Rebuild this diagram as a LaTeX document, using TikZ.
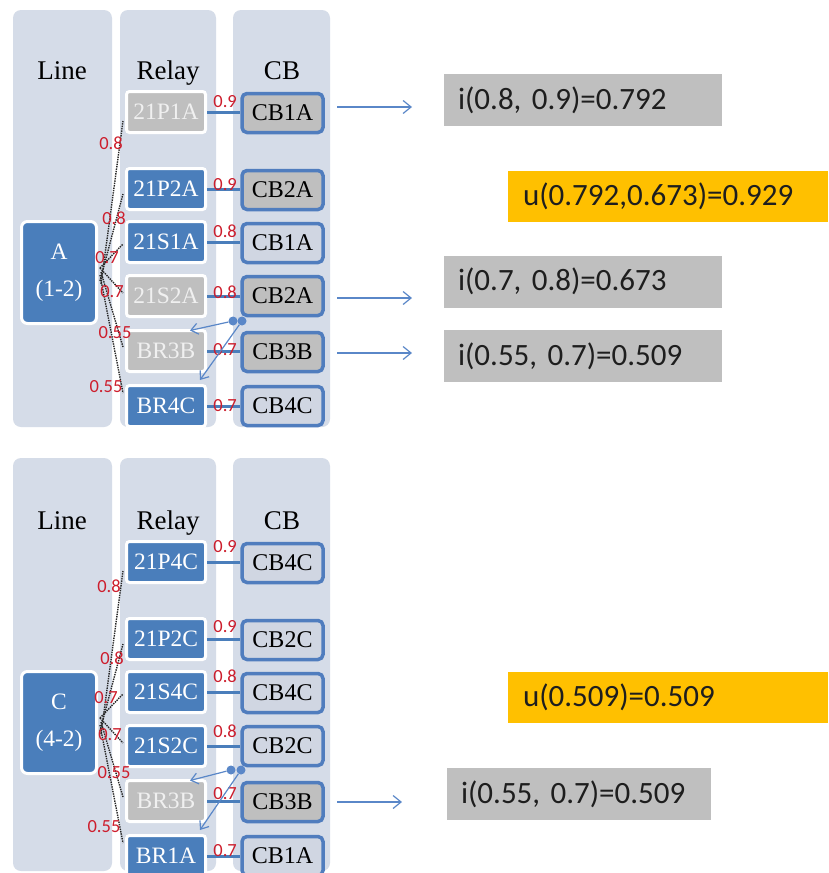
\documentclass[tikz,border=0pt]{standalone}
\usepackage{fontspec}
\setmainfont{Liberation Serif}
\newfontfamily\sansf{Carlito}
\usetikzlibrary{calc,arrows.meta}
\definecolor{colbg}{RGB}{213,220,232}
\definecolor{boxblue}{RGB}{74,126,187}
\definecolor{boxgray}{RGB}{191,191,191}
\definecolor{cbborder}{RGB}{80,125,190}
\definecolor{cblight}{RGB}{208,214,226}
\definecolor{lblred}{RGB}{205,30,45}
\definecolor{arrblue}{RGB}{90,135,200}
\definecolor{resorange}{RGB}{255,192,0}
\definecolor{restext}{RGB}{30,30,30}
\tikzset{
  colbox/.style={fill=colbg, draw=none, rounded corners=8pt},
  header/.style={anchor=base, font=\fontsize{27}{29}\selectfont, text=black},
  relaybase/.style={draw=white, line width=3pt, rounded corners=3pt, minimum width=79pt, minimum height=41pt, inner sep=0pt, font=\fontsize{23.5}{25}\selectfont},
  relayblue/.style={relaybase, fill=boxblue, text=white},
  relaygray/.style={relaybase, fill=boxgray, text=white!94!black},
  cbbase/.style={draw=cbborder, line width=3.5pt, rounded corners=5pt, minimum width=81pt, minimum height=39pt, inner sep=0pt, font=\fontsize{24}{26}\selectfont, text=black},
  cbgray/.style={cbbase, fill=boxgray},
  cblite/.style={cbbase, fill=cblight},
  linebox/.style={draw=white, line width=3pt, rounded corners=6pt, fill=boxblue, text=white, minimum width=75pt, minimum height=102pt, align=center, font=\fontsize{23.5}{37}\selectfont},
  conn/.style={draw=boxblue, line width=3pt},
  lbl/.style={text=lblred, font=\sansf\fontsize{18.5}{18.5}\selectfont, inner sep=0pt},
  dotl/.style={draw=black!85, densely dotted, line width=1.4pt},
  dot/.style={circle, fill=arrblue, minimum size=9pt, inner sep=0pt},
  blarr/.style={draw=arrblue, line width=1.2pt, -{Straight Barb[length=7pt,width=11pt]}},
  resarr/.style={draw=arrblue, line width=1.2pt, -{Straight Barb[length=8pt,width=13pt]}},
  resgray/.style={fill=boxgray, text=restext, minimum height=52pt, inner ysep=0pt, inner xsep=14pt, align=left, font=\sansf\fontsize{31}{31}\selectfont},
  resorg/.style={fill=resorange, text=restext, minimum height=51pt, inner ysep=0pt, inner xsep=15pt, align=left, font=\sansf\fontsize{31}{31}\selectfont},
}
\begin{document}
\begin{tikzpicture}[x=1pt,y=-1pt]
\useasboundingbox (0,0) rectangle (828,873);
\fill[white] (0,0) rectangle (828,873);

% ================= TOP PANEL =================
\fill[colbox] (13,10) rectangle (112,427);
\fill[colbox] (120,10) rectangle (216,427);
\fill[colbox] (233,10) rectangle (330,427);
\node[header] (tHl) at (62,79) {Line};
\node[header] (tHr) at (168,79) {Relay};
\node[header] (tHc) at (282,79) {CB};

\node[linebox] (tA) at (59,272.5) {A\\(1-2)};

\node[relaygray] (tr1) at (166,112) {21P1A};
\node[relayblue] (tr2) at (166,189) {21P2A};
\node[relayblue] (tr3) at (166,242) {21S1A};
\node[relaygray] (tr4) at (166,296) {21S2A};
\node[relaygray] (tr5) at (166,351) {BR3B};
\node[relayblue] (tr6) at (166,406) {BR4C};

\node[cbgray] (tc1) at (282.5,113) {CB1A};
\node[cbgray] (tc2) at (282.5,190) {CB2A};
\node[cblite] (tc3) at (282.5,243) {CB1A};
\node[cbgray] (tc4) at (282.5,296) {CB2A};
\node[cbgray] (tc5) at (282.5,352) {CB3B};
\node[cblite] (tc6) at (282.5,406) {CB4C};

\draw[conn] (tr1.east) -- (tc1.west |- tr1.east) node[lbl, midway, xshift=1.5pt, yshift=10pt] {0.9};
\draw[conn] (tr2.east) -- (tc2.west |- tr2.east) node[lbl, midway, xshift=1.5pt, yshift=4pt] {0.9};
\draw[conn] (tr3.east) -- (tc3.west |- tr3.east) node[lbl, midway, xshift=1.5pt, yshift=11pt] {0.8};
\draw[conn] (tr4.east) -- (tc4.west |- tr4.east) node[lbl, midway, xshift=1.5pt, yshift=4pt] {0.8};
\draw[conn] (tr5.east) -- (tc5.west |- tr5.east) node[lbl, midway, xshift=1.5pt, yshift=1pt] {0.7};
\draw[conn] (tr6.east) -- (tc6.west |- tr6.east) node[lbl, midway, xshift=1.5pt, yshift=0pt] {0.7};

\draw[dotl] ($(tA.east)+(3,11.5)$) -- ($(tr1.west)+(-2,9)$);
\draw[dotl] ($(tA.east)+(2,8.5)$) -- ($(tr2.west)+(-2,5)$);
\draw[dotl] ($(tA.east)+(2,-4.5)$) -- ($(tr3.west)+(-2,2)$);
\draw[dotl] ($(tA.east)+(2,-4.5)$) -- ($(tr4.west)+(-2,-3)$);
\draw[dotl] ($(tA.east)+(3,-0.5)$) -- ($(tr5.west)+(-2,-4)$);
\draw[dotl] ($(tA.east)+(2,2.5)$) -- ($(tr6.west)+(-2,-13)$);
\node[lbl] (tl1) at (111,143) {0.8};
\node[lbl] (tl2) at (114,218) {0.8};
\node[lbl] (tl3) at (107,258) {0.7};
\node[lbl] (tl4) at (112,292) {0.7};
\node[lbl] (tl5) at (115,333) {0.55};
\node[lbl] (tl6) at (106,387) {0.55};

\node[dot] (td1) at (233,321) {};
\node[dot] (td2) at (242,321) {};
\draw[blarr] (td1) -- ($(tr5.north east)+(-17,1.5)$);
\draw[blarr] (td2) -- ($(tr6.north east)+(-7,-4)$);

\coordinate (ta1s) at (337,107); \coordinate (ta1e) at (412,107);
\coordinate (ta2s) at (337,298); \coordinate (ta2e) at (412,298);
\coordinate (ta3s) at (337,353); \coordinate (ta3e) at (412,353);
\draw[resarr] (ta1s) -- (ta1e);
\draw[resarr] (ta2s) -- (ta2e);
\draw[resarr] (ta3s) -- (ta3e);

\node[resgray, text width=250pt] (tg1) at (583,100) {i(0.8, 0.9)=0.792};
\node[resorg, text width=290pt] (to1) at (668,196.5) {u(0.792,0.673)=0.929};
\node[resgray, text width=250pt] (tg2) at (583,281.5) {i(0.7, 0.8)=0.673};
\node[resgray, text width=250pt] (tg3) at (583,356) {i(0.55, 0.7)=0.509};

% ================= BOTTOM PANEL =================
\fill[colbox] (13,458) rectangle (112,871);
\fill[colbox] (120,458) rectangle (216,871);
\fill[colbox] (233,458) rectangle (330,871);
\node[header] (bHl) at (62,529) {Line};
\node[header] (bHr) at (168,529) {Relay};
\node[header] (bHc) at (282,529) {CB};

\node[linebox] (bC) at (59,722.5) {C\\(4-2)};

\node[relayblue] (br1) at (166,562) {21P4C};
\node[relayblue] (br2) at (166,639) {21P2C};
\node[relayblue] (br3) at (166,692) {21S4C};
\node[relayblue] (br4) at (166,746) {21S2C};
\node[relaygray] (br5) at (166,801) {BR3B};
\node[relayblue] (br6) at (166,856) {BR1A};

\node[cblite] (bc1) at (282.5,563) {CB4C};
\node[cblite] (bc2) at (282.5,640) {CB2C};
\node[cblite] (bc3) at (282.5,693) {CB4C};
\node[cblite] (bc4) at (282.5,746) {CB2C};
\node[cbgray] (bc5) at (282.5,802) {CB3B};
\node[cblite] (bc6) at (282.5,856) {CB1A};

\draw[conn] (br1.east) -- (bc1.west |- br1.east) node[lbl, midway, xshift=1.5pt, yshift=15pt] {0.9};
\draw[conn] (br2.east) -- (bc2.west |- br2.east) node[lbl, midway, xshift=1.5pt, yshift=12pt] {0.9};
\draw[conn] (br3.east) -- (bc3.west |- br3.east) node[lbl, midway, xshift=1.5pt, yshift=16pt] {0.8};
\draw[conn] (br4.east) -- (bc4.west |- br4.east) node[lbl, midway, xshift=1.5pt, yshift=15pt] {0.8};
\draw[conn] (br5.east) -- (bc5.west |- br5.east) node[lbl, midway, xshift=1.5pt, yshift=7pt] {0.7};
\draw[conn] (br6.east) -- (bc6.west |- br6.east) node[lbl, midway, xshift=1.5pt, yshift=5pt] {0.7};

\draw[dotl] ($(bC.east)+(3,11.5)$) -- ($(br1.west)+(-2,9)$);
\draw[dotl] ($(bC.east)+(2,8.5)$) -- ($(br2.west)+(-2,5)$);
\draw[dotl] ($(bC.east)+(2,-4.5)$) -- ($(br3.west)+(-2,2)$);
\draw[dotl] ($(bC.east)+(2,-4.5)$) -- ($(br4.west)+(-2,-3)$);
\draw[dotl] ($(bC.east)+(3,-0.5)$) -- ($(br5.west)+(-2,-4)$);
\draw[dotl] ($(bC.east)+(2,2.5)$) -- ($(br6.west)+(-2,-13)$);
\node[lbl] (bl1) at (109,586) {0.8};
\node[lbl] (bl2) at (112,658) {0.8};
\node[lbl] (bl3) at (106,698) {0.7};
\node[lbl] (bl4) at (110,735) {0.7};
\node[lbl] (bl5) at (114,773) {0.55};
\node[lbl] (bl6) at (104,827) {0.55};

\node[dot] (bd1) at (231,770) {};
\node[dot] (bd2) at (241,770) {};
\draw[blarr] (bd1) -- ($(br5.north east)+(-17,1.5)$);
\draw[blarr] (bd2) -- ($(br6.north east)+(-7,-4)$);

\coordinate (ba1s) at (337,802); \coordinate (ba1e) at (402,802);
\draw[resarr] (ba1s) -- (ba1e);

\node[resorg, text width=290pt] (bo1) at (668,697.5) {u(0.509)=0.509};
\node[resgray, text width=236pt] (bg1) at (579,794) {i(0.55, 0.7)=0.509};
\end{tikzpicture}
\end{document}
